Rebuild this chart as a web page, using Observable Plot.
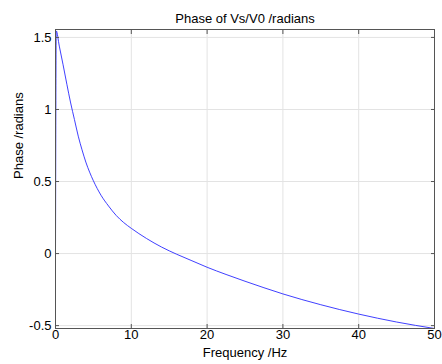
<!DOCTYPE html>
<html>
<head>
<meta charset="utf-8">
<script src="https://cdn.jsdelivr.net/npm/d3@7"></script>
<script src="https://cdn.jsdelivr.net/npm/@observablehq/plot@0.6"></script>
<style>
  html, body { margin: 0; padding: 0; background: #fff; }
</style>
</head>
<body>
<div id="chart"></div>
<script>
const titleText = "Phase of Vs/V0 /radians";
const xLabel = "Frequency /Hz";
const yLabel = "Phase /radians";

const frequency = [0, 0.1, 0.5, 1, 1.5, 2, 2.5, 3, 3.5, 4, 4.5, 5, 6, 7, 8, 9, 10, 12, 14, 16, 18, 20, 22.5, 25, 27.5, 30, 35, 40, 45, 50];
const phase = [0, 1.545, 1.44, 1.31, 1.175, 1.045, 0.93, 0.815, 0.72, 0.635, 0.565, 0.505, 0.405, 0.33, 0.265, 0.215, 0.175, 0.105, 0.045, -0.005, -0.05, -0.095, -0.145, -0.192, -0.237, -0.28, -0.355, -0.42, -0.475, -0.52];

const xTicks = [0, 10, 20, 30, 40, 50];
const yTicks = [-0.5, 0, 0.5, 1, 1.5];

const data = frequency.map((f, i) => ({f, p: phase[i]}));
const fmt = d => String(d);

const chart = Plot.plot({
  width: 442,
  height: 364,
  marginLeft: 55,
  marginRight: 8,
  marginTop: 29,
  marginBottom: 36,
  style: {fontFamily: "'Liberation Sans', Arial, sans-serif", fontSize: "13px", background: "#fff", color: "#000", overflow: "visible"},
  x: {domain: [0, 50]},
  y: {domain: [-0.52, 1.555]},
  marks: [
    Plot.gridX(xTicks, {stroke: "#e3e3e3", strokeOpacity: 1}),
    Plot.gridY(yTicks, {stroke: "#e3e3e3", strokeOpacity: 1}),
    Plot.line(data, {x: "f", y: "p", stroke: "#2a2aff", strokeWidth: 0.9, curve: "monotone-x"}),
    Plot.frame({stroke: "#555"}),
    Plot.axisX(xTicks, {anchor: "bottom", tickSize: -4, tickPadding: 5, tickFormat: fmt, label: null, stroke: "#555", fill: "#000"}),
    Plot.axisX(xTicks, {anchor: "top", tickSize: -4, tickFormat: () => "", label: null, stroke: "#555"}),
    Plot.axisY(yTicks, {anchor: "left", tickSize: -4, tickPadding: 8, tickFormat: fmt, label: null, stroke: "#555", fill: "#000"}),
    Plot.axisY(yTicks, {anchor: "right", tickSize: -4, tickFormat: () => "", label: null, stroke: "#555"}),
    Plot.text([titleText], {frameAnchor: "top", dy: -16, fontSize: 13, fill: "#000"}),
    Plot.text([xLabel], {frameAnchor: "bottom", dy: 28, fontSize: 13, fill: "#000"}),
    Plot.text([yLabel], {frameAnchor: "left", dx: -37, rotate: -90, fontSize: 13, fill: "#000"})
  ]
});
document.getElementById("chart").appendChild(chart);
</script>
</body>
</html>
